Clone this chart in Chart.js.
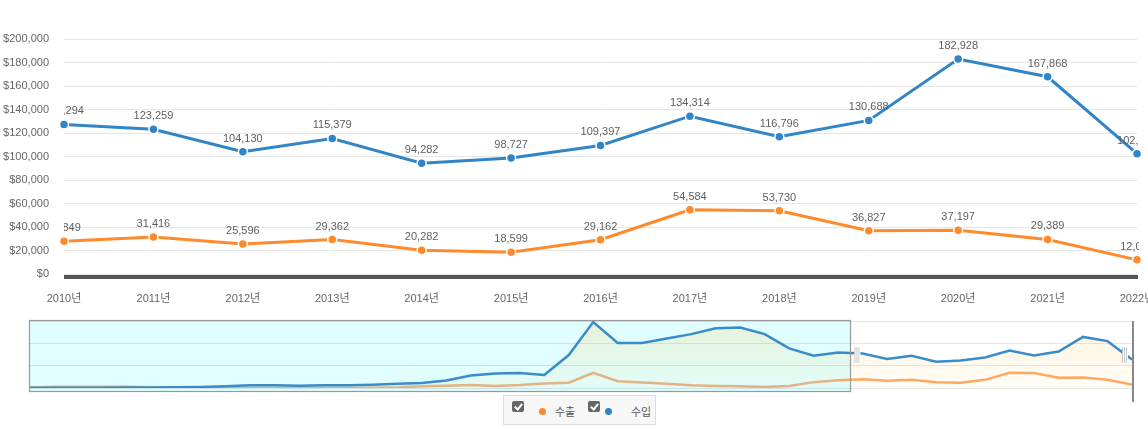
<!DOCTYPE html>
<html lang="ko">
<head>
<meta charset="utf-8">
<title>수출입 추이</title>
<script src="https://cdn.jsdelivr.net/npm/chart.js@4.4.1/dist/chart.umd.min.js"></script>
<style>
  html, body { margin: 0; padding: 0; background: #fff; overflow: hidden; }
  body { width: 1148px; height: 429px; position: relative; font-family: 'Liberation Sans', 'Noto Sans CJK KR', sans-serif; }
  #main-wrap { position: absolute; left: 0; top: 0; width: 1148px; height: 310px; }
  #nav-wrap { position: absolute; left: 0; top: 310px; width: 1148px; height: 92px; }
  #legend { position: absolute; left: 503px; top: 395px; width: 151px; height: 28px; background: #f7f7f7; border: 1px solid #ddd; font-size: 11px; color: #555; }
  #legend .cb { position: absolute; top: 5px; width: 12px; height: 11px; background: #666; border-radius: 2px; }
  #legend .cb::after { content: ''; position: absolute; left: 4px; top: 1px; width: 3px; height: 6px; border: solid #fff; border-width: 0 2px 2px 0; transform: rotate(40deg); }
  #legend .dot { position: absolute; top: 12px; width: 7px; height: 7px; border-radius: 50%; }
  #legend .txt { position: absolute; top: 9px; line-height: 14px; }
</style>
</head>
<body>
<div id="main-wrap"><canvas id="main-chart"></canvas></div>
<div id="nav-wrap"><canvas id="nav-chart"></canvas></div>
<div id="legend">
  <span class="cb" style="left:8px"></span><span class="dot" style="left:35px;background:#ff8a2b"></span><span class="txt" style="left:51px">수출</span>
  <span class="cb" style="left:84px"></span><span class="dot" style="left:101px;background:#3185c6"></span><span class="txt" style="left:127px">수입</span>
</div>
<script>
// main chart (2010 ~ 2022)
var years = ['2010년', '2011년', '2012년', '2013년', '2014년', '2015년', '2016년', '2017년', '2018년', '2019년', '2020년', '2021년', '2022년'];
var exportValues = [27849, 31416, 25596, 29362, 20282, 18599, 29162, 54584, 53730, 36827, 37197, 29389, 12046];
var importValues = [127294, 123259, 104130, 115379, 94282, 98727, 109397, 134314, 116796, 130688, 182928, 167868, 102380];

// navigator history (1977 ~ 2009)
var historyYears = ['1977', '1978', '1979', '1980', '1981', '1982', '1983', '1984', '1985', '1986', '1987',
  '1988', '1989', '1990', '1991', '1992', '1993', '1994', '1995', '1996', '1997', '1998',
  '1999', '2000', '2001', '2002', '2003', '2004', '2005', '2006', '2007', '2008', '2009'];
var historyExports = [500, 4500, 4500, 4500, 4500, 2500, 800, 600, 600, 1200, 1200,
  600, 600, 700, 1200, 2500, 5900, 8300, 10600, 7000, 10600, 16500,
  19000, 54000, 24000, 20000, 15000, 9500, 7000, 6000, 3500, 7000, 21000];
var historyImports = [1000, 1200, 1300, 1300, 1500, 2000, 2500, 3500, 6000, 9500, 9500,
  8000, 9500, 10000, 12000, 15000, 18000, 27000, 45000, 52000, 54000, 47000,
  118000, 236000, 161000, 161000, 177000, 193000, 214000, 217000, 193000, 142000, 116000];

var blue = '#3185c6';
var orange = '#ff8a2b';

Chart.defaults.font.family = "'Liberation Sans', 'Noto Sans CJK KR', sans-serif";
Chart.defaults.font.size = 11;
Chart.defaults.color = '#666';

var valueLabels = {
  id: 'valueLabels',
  beforeDatasetsDraw: function(chart) {
    var a = chart.chartArea, ctx = chart.ctx;
    ctx.save();
    ctx.fillStyle = '#555';
    ctx.fillRect(a.left, a.bottom + 1, a.right - a.left + 1, 4);
    ctx.restore();
  },
  afterDatasetsDraw: function(chart) {
    var a = chart.chartArea, ctx = chart.ctx;
    ctx.save();
    ctx.beginPath();
    ctx.rect(a.left, 0, a.right + 2 - a.left, chart.height);
    ctx.clip();
    ctx.font = "11px 'Liberation Sans', sans-serif";
    ctx.fillStyle = '#606060';
    ctx.textAlign = 'center';
    ctx.textBaseline = 'middle';
    chart.data.datasets.forEach(function(ds, i) {
      chart.getDatasetMeta(i).data.forEach(function(pt, j) {
        ctx.fillText(ds.data[j].toLocaleString('en-US'), pt.x, pt.y - 13);
      });
    });
    ctx.restore();
  }
};

new Chart(document.getElementById('main-chart'), {
  type: 'line',
  data: {
    labels: years,
    datasets: [
      {
        label: '수입',
        data: importValues,
        borderColor: blue,
        backgroundColor: blue,
        borderWidth: 3,
        pointRadius: 4.5,
        pointBorderColor: '#fff',
        pointBorderWidth: 1.5,
        tension: 0
      },
      {
        label: '수출',
        data: exportValues,
        borderColor: orange,
        backgroundColor: orange,
        borderWidth: 3,
        pointRadius: 4.5,
        pointBorderColor: '#fff',
        pointBorderWidth: 1.5,
        tension: 0
      }
    ]
  },
  options: {
    responsive: true,
    maintainAspectRatio: false,
    animation: false,
    layout: { padding: { top: 39, right: 11, bottom: 0, left: 0 } },
    plugins: { legend: { display: false }, tooltip: { enabled: false } },
    scales: {
      x: {
        grid: { display: false, drawTicks: false },
        border: { display: false },
        ticks: { padding: 18, color: '#666', maxRotation: 0, autoSkip: false },
        afterFit: function(s) { s.height = 36; s.paddingLeft = 0; s.paddingRight = 0; }
      },
      y: {
        min: 0,
        max: 200000,
        grid: { color: '#e6e6e6', drawTicks: false },
        border: { display: false },
        ticks: {
          stepSize: 20000,
          padding: 15,
          color: '#666',
          callback: function(v) { return '$' + v.toLocaleString('en-US'); }
        },
        afterFit: function(s) { s.width = 64; }
      }
    }
  },
  plugins: [valueLabels]
});

// navigator
var maskEnd = historyYears.length; // mask covers up to 2010

function maskRightPx(chart) {
  var xs = chart.scales.x;
  return xs.getPixelForValue(maskEnd) + (xs.getPixelForValue(maskEnd + 1) - xs.getPixelForValue(maskEnd)) / 2;
}

var navMask = {
  id: 'navMask',
  beforeDraw: function(chart) {
    var a = chart.chartArea, ctx = chart.ctx;
    if (!a) return;
    ctx.save();
    ctx.fillStyle = '#e0fefe';
    ctx.fillRect(a.left, a.top, maskRightPx(chart) - a.left, a.bottom - a.top + 3.5);
    ctx.restore();
  },
  afterDatasetsDraw: function(chart) {
    var a = chart.chartArea, ctx = chart.ctx;
    var maskRight = maskRightPx(chart);
    ctx.save();
    ctx.strokeStyle = '#999';
    ctx.lineWidth = 1.2;
    ctx.strokeRect(Math.round(a.left) - 0.5, Math.round(a.top) - 0.5, Math.round(maskRight - a.left) + 1, Math.round(a.bottom - a.top) + 4);
    // right edge
    ctx.strokeStyle = '#888';
    ctx.lineWidth = 2;
    ctx.beginPath();
    ctx.moveTo(a.right + 1, a.top);
    ctx.lineTo(a.right + 1, chart.height);
    ctx.stroke();
    // handles
    [maskRight + 4, a.right - 10].forEach(function(hx) {
      ctx.fillStyle = '#fff';
      ctx.fillRect(hx, 37, 6, 16);
      ctx.fillStyle = '#c8c8c8';
      for (var k = 0; k < 3; k++) ctx.fillRect(hx + k * 2, 37, 1, 16);
    });
    ctx.restore();
  }
};

new Chart(document.getElementById('nav-chart'), {
  type: 'line',
  data: {
    labels: historyYears.concat(years),
    datasets: [
      {
        label: '수입',
        data: historyImports.concat(importValues),
        borderColor: '#3a8cc8',
        borderWidth: 2.5,
        pointRadius: 0,
        tension: 0,
        fill: 'origin',
        backgroundColor: function(c) {
          var a = c.chart.chartArea;
          if (!a) return 'rgba(255,200,90,0.15)';
          var g = c.chart.ctx.createLinearGradient(0, a.top, 0, a.bottom);
          g.addColorStop(0, 'rgba(255,200,90,0.22)');
          g.addColorStop(1, 'rgba(255,200,90,0.04)');
          return g;
        }
      },
      {
        label: '수출',
        data: historyExports.concat(exportValues),
        borderColor: 'rgba(255,150,70,0.85)',
        segment: {
          borderColor: function(c) { return c.p1DataIndex <= maskEnd ? 'rgba(225,170,120,0.9)' : 'rgba(255,150,70,0.85)'; }
        },
        borderWidth: 2.5,
        pointRadius: 0,
        tension: 0,
        fill: false
      }
    ]
  },
  options: {
    responsive: true,
    maintainAspectRatio: false,
    animation: false,
    layout: { padding: { top: 11, right: 16, bottom: 14, left: 30 } },
    plugins: { legend: { display: false }, tooltip: { enabled: false } },
    scales: {
      x: { display: false },
      y: {
        min: 0,
        max: 240000,
        grid: { color: 'rgba(0,0,0,0.1)', drawTicks: false },
        border: { display: false },
        ticks: { display: false, stepSize: 80000 },
        afterFit: function(s) { s.width = 0; }
      }
    }
  },
  plugins: [navMask]
});
</script>
</body>
</html>
